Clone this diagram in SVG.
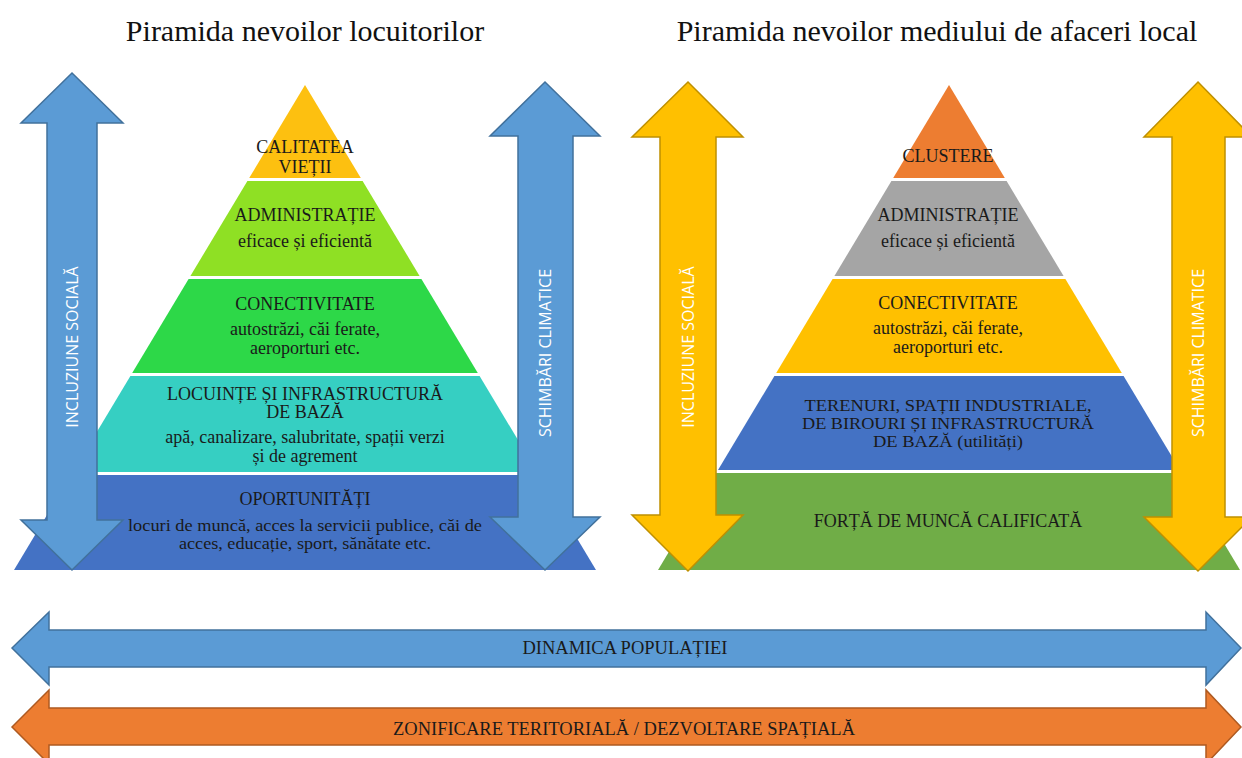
<svg xmlns="http://www.w3.org/2000/svg" width="1242" height="758" viewBox="0 0 1242 758">
<style>
.title{font-family:"Liberation Serif","Times New Roman",serif;font-size:30px;fill:#111;text-anchor:middle}
.t{font-family:"Liberation Serif","Times New Roman",serif;font-size:18px;fill:#1a1a1a;text-anchor:middle}
.s{font-family:"Liberation Serif","Times New Roman",serif;font-size:16px;fill:#1a1a1a;text-anchor:middle}
.h{font-family:"Liberation Serif","Times New Roman",serif;font-size:18.5px;fill:#1a1a1a;text-anchor:middle}
.v{font-family:"Open Sans","Liberation Sans",sans-serif;font-size:16px;fill:#ffffff;text-anchor:middle}
.band{stroke:none}
.ab{fill:#5B9BD5;stroke:#41719C;stroke-width:1.5}
.ay{fill:#FFC000;stroke:#BF9000;stroke-width:1.5}
.ao{fill:#ED7D31;stroke:#AE5A21;stroke-width:1.5}
</style>
<rect width="1242" height="758" fill="#ffffff"/>
<text class="title" x="305" y="41">Piramida nevoilor locuitorilor</text>
<text class="title" x="937" y="41">Piramida nevoilor mediului de afaceri local</text>

<g id="pyramid-left">
  <g id="pl-1"><polygon class="band" fill="#FDC010" points="305,85 360.8,178 249.2,178"/>
    <text class="t" x="305" y="153">CALITATEA</text><text class="t" x="305" y="173">VIEȚII</text></g>
  <g id="pl-2"><polygon class="band" fill="#8FE024" points="247.4,181 362.6,181 419.6,276 190.4,276"/>
    <text class="t" x="305" y="221">ADMINISTRAȚIE</text><text class="t" x="305" y="247">eficace și eficientă</text></g>
  <g id="pl-3"><polygon class="band" fill="#2DD848" points="188.6,279 421.4,279 477.8,373 132.2,373"/>
    <text class="t" x="305" y="310">CONECTIVITATE</text><text class="t" x="305" y="335">autostrăzi, căi ferate,</text><text class="t" x="305" y="354">aeroporturi etc.</text></g>
  <g id="pl-4"><polygon class="band" fill="#36CFC2" points="130.4,376 479.6,376 537.2,472 72.8,472"/>
    <text class="t" x="305" y="400">LOCUINȚE ȘI INFRASTRUCTURĂ</text><text class="t" x="305" y="418">DE BAZĂ</text>
    <text class="t" x="305" y="443">apă, canalizare, salubritate, spații verzi</text><text class="t" x="305" y="462">și de agrement</text></g>
  <g id="pl-5"><polygon class="band" fill="#4472C4" points="71,475 539,475 596,570 14,570"/>
    <text class="t" x="305" y="505">OPORTUNITĂȚI</text>
    <text class="s" x="305" y="531" textLength="354" lengthAdjust="spacingAndGlyphs">locuri de muncă, acces la servicii publice, căi de</text>
    <text class="s" x="305" y="549" textLength="252" lengthAdjust="spacingAndGlyphs">acces, educație, sport, sănătate etc.</text></g>
</g>

<g id="pyramid-right">
  <g id="pr-1"><polygon class="band" fill="#ED7D31" points="949,85 1004.8,178 893.2,178"/>
    <text class="t" x="948" y="162">CLUSTERE</text></g>
  <g id="pr-2"><polygon class="band" fill="#A5A5A5" points="891.4,181 1006.6,181 1063.6,276 834.4,276"/>
    <text class="t" x="948" y="221">ADMINISTRAȚIE</text><text class="t" x="948" y="247">eficace și eficientă</text></g>
  <g id="pr-3"><polygon class="band" fill="#FFC000" points="832.6,279 1065.4,279 1121.8,373 776.2,373"/>
    <text class="t" x="948" y="309">CONECTIVITATE</text><text class="t" x="948" y="334">autostrăzi, căi ferate,</text><text class="t" x="948" y="353">aeroporturi etc.</text></g>
  <g id="pr-4"><polygon class="band" fill="#4472C4" points="774.4,376 1123.6,376 1180,470 718,470"/>
    <text class="s" x="948" y="411" textLength="287" lengthAdjust="spacingAndGlyphs">TERENURI, SPAȚII INDUSTRIALE,</text>
    <text class="s" x="948" y="429" textLength="292" lengthAdjust="spacingAndGlyphs">DE BIROURI ȘI INFRASTRUCTURĂ</text>
    <text class="s" x="948" y="447" textLength="150" lengthAdjust="spacingAndGlyphs">DE BAZĂ (utilități)</text></g>
  <g id="pr-5"><polygon class="band" fill="#70AD47" points="716.2,473 1181.8,473 1240,570 658,570"/>
    <text class="t" x="948" y="527">FORȚĂ DE MUNCĂ CALIFICATĂ</text></g>
</g>

<g id="connectors">
  <g id="arrow-incluziune-left">
    <polygon class="ab" points="72,73 123,123 97,123 97,520 123,520 72,570 21,520 47,520 47,123 21,123"/>
    <text class="v" transform="translate(78,347) rotate(-90)">INCLUZIUNE SOCIALĂ</text>
  </g>
  <g id="arrow-schimbari-left">
    <polygon class="ab" points="545,82 600,136 573,136 573,517 600,517 545,570 490,517 518,517 518,136 490,136"/>
    <text class="v" transform="translate(551,353) rotate(-90)">SCHIMBĂRI CLIMATICE</text>
  </g>
  <g id="arrow-incluziune-right">
    <polygon class="ay" points="688,82 743,137 716,137 716,515 743,515 688,571 632,515 660,515 660,137 632,137"/>
    <text class="v" transform="translate(694,347) rotate(-90)">INCLUZIUNE SOCIALĂ</text>
  </g>
  <g id="arrow-schimbari-right">
    <polygon class="ay" points="1198,82 1252,137 1225,137 1225,517 1252,517 1198,571 1144,517 1172,517 1172,137 1144,137"/>
    <text class="v" transform="translate(1204,353) rotate(-90)">SCHIMBĂRI CLIMATICE</text>
  </g>
  <g id="arrow-dinamica">
    <polygon class="ab" points="12,648 49,612 49,630 1206,630 1206,612 1241,648 1206,685 1206,667 49,667 49,685"/>
    <text class="h" x="625" y="654">DINAMICA POPULAȚIEI</text>
  </g>
  <g id="arrow-zonificare">
    <polygon class="ao" points="12,727 49,690 49,708 1206,708 1206,690 1241,727 1206,764 1206,745 49,745 49,764"/>
    <text class="h" x="624" y="735">ZONIFICARE TERITORIALĂ / DEZVOLTARE SPAȚIALĂ</text>
  </g>
</g>
</svg>
